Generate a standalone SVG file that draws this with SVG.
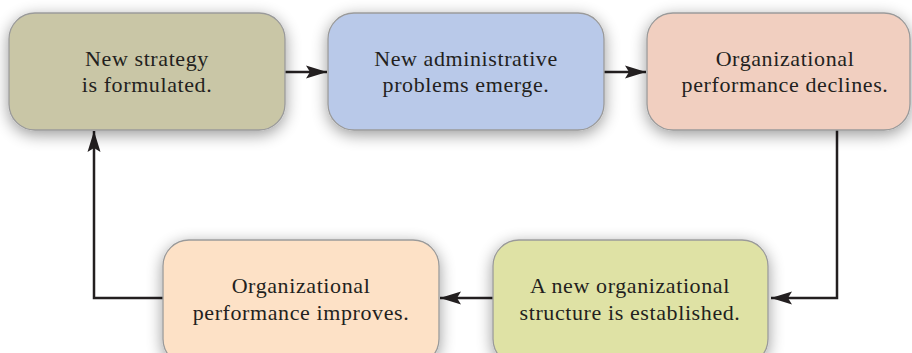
<svg xmlns="http://www.w3.org/2000/svg" width="912" height="353" viewBox="0 0 912 353">
<style>
.box{stroke:#9a9a9a;stroke-width:1.3}
.t{font-family:"Liberation Serif","Times New Roman",serif;font-size:22px;letter-spacing:0.6px;fill:#231f20;text-anchor:middle}
.c{fill:none;stroke:#231f20;stroke-width:2.5}
</style>
<defs>
<filter id="sh" x="-20%" y="-20%" width="140%" height="150%">
<feGaussianBlur in="SourceAlpha" stdDeviation="8"/>
<feOffset dx="0" dy="4"/>
<feComponentTransfer><feFuncA type="linear" slope="0.4"/></feComponentTransfer>
<feMerge><feMergeNode/><feMergeNode in="SourceGraphic"/></feMerge>
</filter>
<marker id="ah" markerWidth="22" markerHeight="14" refX="21" refY="7" orient="auto" markerUnits="userSpaceOnUse">
<path d="M0,0.5 L21,7 L0,13.5 L4,7 Z" fill="#231f20"/>
</marker>
</defs>
<rect width="912" height="353" fill="#ffffff"/>
<g id="connectors">
<path class="c" d="M285,72 H327" marker-end="url(#ah)"/>
<path class="c" d="M604,72 H646" marker-end="url(#ah)"/>
<path class="c" d="M837,130 V298 H771" marker-end="url(#ah)"/>
<path class="c" d="M493,298 H440" marker-end="url(#ah)"/>
<path class="c" d="M163,298 H94 V131" marker-end="url(#ah)"/>
</g>
<g id="n1">
<rect class="box" x="9" y="13" width="276" height="117" rx="26" fill="#c9c6a6" filter="url(#sh)"/>
<text class="t" x="147" y="66">New strategy</text>
<text class="t" x="147" y="92">is formulated.</text>
</g>
<g id="n2">
<rect class="box" x="328" y="13" width="276" height="117" rx="26" fill="#b9c9e9" filter="url(#sh)"/>
<text class="t" x="466" y="66">New administrative</text>
<text class="t" x="466" y="92">problems emerge.</text>
</g>
<g id="n3">
<rect class="box" x="647" y="13" width="263" height="117" rx="26" fill="#f1cfc0" filter="url(#sh)"/>
<text class="t" x="785" y="66">Organizational</text>
<text class="t" x="785" y="92">performance declines.</text>
</g>
<g id="n4">
<rect class="box" x="163" y="240" width="276" height="125" rx="26" fill="#fde1c6" filter="url(#sh)"/>
<text class="t" x="301" y="293">Organizational</text>
<text class="t" x="301" y="320">performance improves.</text>
</g>
<g id="n5">
<rect class="box" x="493" y="240" width="275" height="125" rx="26" fill="#dfe2a5" filter="url(#sh)"/>
<text class="t" x="630" y="293">A new organizational</text>
<text class="t" x="630" y="320">structure is established.</text>
</g>
</svg>
